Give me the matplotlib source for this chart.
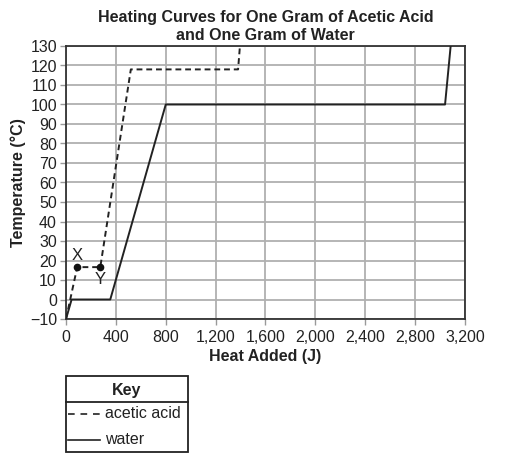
import matplotlib.pyplot as plt
from matplotlib.lines import Line2D
from matplotlib.patches import Rectangle

plt.rcParams['font.family'] = ['Liberation Sans', 'DejaVu Sans']

# Daten
wasser_j = [0, 45, 355, 800, 3040, 3085]
wasser_t = [-10, 0, 0, 100, 100, 130]

essig_j = [0, 90, 275, 520, 1380, 1395]
essig_t = [-10, 16.6, 16.6, 118, 118, 130]

punkte_j = [90, 275]
punkte_t = [16.6, 16.6]
punkte_namen = ["X", "Y"]

x_ticks = list(range(0, 3201, 400))
x_labels = ["0", "400", "800", "1,200", "1,600", "2,000", "2,400", "2,800", "3,200"]
y_ticks = list(range(-10, 131, 10))
y_labels = ["\u221210"] + [str(t) for t in y_ticks[1:]]

fs = 11.5
farbe = "#222222"

fig = plt.figure(figsize=(5.06, 4.69), dpi=100)
ax = fig.add_axes([66/506, 1 - 319/469, 399/506, 273/469])

ax.plot(wasser_j, wasser_t, color=farbe, lw=1.4, zorder=3)
ax.plot(essig_j, essig_t, color=farbe, lw=1.4, ls=(0, (3, 2)), zorder=3)
ax.plot(punkte_j, punkte_t, "o", color="#111111", ms=4.5, zorder=4)
ax.annotate(punkte_namen[0], (punkte_j[0], punkte_t[0]), xytext=(0, 3),
            textcoords="offset points", ha="center", va="bottom", fontsize=12, color=farbe)
ax.annotate(punkte_namen[1], (punkte_j[1], punkte_t[1]), xytext=(0, -3.5),
            textcoords="offset points", ha="center", va="top", fontsize=12, color=farbe)

ax.set_xlim(0, 3200)
ax.set_ylim(-10, 130)
ax.set_xticks(x_ticks)
ax.set_xticklabels(x_labels)
ax.set_yticks(y_ticks)
ax.set_yticklabels(y_labels)
ax.grid(True, color="#b0b0b0", lw=1.3)
ax.set_axisbelow(True)
for s in ax.spines.values():
    s.set_color("#333333")
    s.set_linewidth(1.3)
ax.tick_params(direction="out", length=4, width=1, color="#999999",
               labelsize=fs, labelcolor=farbe, pad=2.5)
ax.tick_params(axis="x", pad=4)

ax.set_title("Heating Curves for One Gram of Acetic Acid\nand One Gram of Water",
             fontsize=fs, fontweight="bold", color=farbe, pad=4, linespacing=1.3)
ax.set_xlabel("Heat Added (J)", fontsize=fs, fontweight="bold", color=farbe, labelpad=3)
ax.set_ylabel("Temperature (\u00b0C)", fontsize=fs, fontweight="bold", color=farbe, labelpad=3)

# Key-Kasten
kx0, kx1 = 66/506, 188/506
ky0, ky1 = 1 - 452/469, 1 - 376/469
ky_sep = 1 - 402/469
fig.add_artist(Rectangle((kx0, ky0), kx1 - kx0, ky1 - ky0, transform=fig.transFigure,
                         fill=False, ec=farbe, lw=1.3))
fig.add_artist(Line2D([kx0, kx1], [ky_sep, ky_sep], transform=fig.transFigure,
                      color=farbe, lw=1.3))
fig.text((kx0 + kx1) / 2, 1 - 390/469, "Key", ha="center", va="center",
         fontsize=fs, fontweight="bold", color=farbe)
fig.add_artist(Line2D([68/506, 100/506], [1 - 414/469] * 2, transform=fig.transFigure,
                      color=farbe, lw=1.2, ls=(0, (4, 3.5))))
fig.text(105/506, 1 - 413/469, "acetic acid", ha="left", va="center", fontsize=fs, color=farbe)
fig.add_artist(Line2D([68/506, 100/506], [1 - 440/469] * 2, transform=fig.transFigure,
                      color=farbe, lw=1.2))
fig.text(105/506, 1 - 439/469, "water", ha="left", va="center", fontsize=fs, color=farbe)

fig.savefig("out.png", dpi=100)
